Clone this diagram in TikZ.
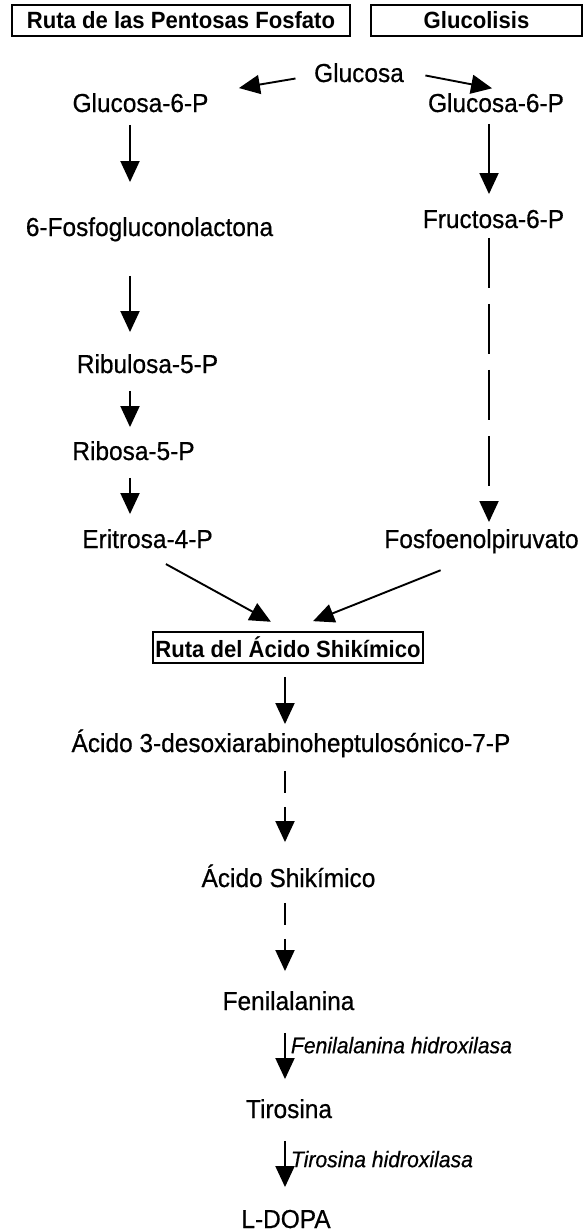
\documentclass[tikz,border=0pt]{standalone}
\usepackage{fontspec}
\setmainfont[FakeBold=0.6, FakeStretch=0.94]{Liberation Sans}
\newfontfamily\headfont[FakeStretch=0.94]{Liberation Sans Bold}
\usetikzlibrary{arrows.meta}

\begin{document}
\begin{tikzpicture}[
		x=1pt, y=-1pt,
		>={Triangle[length=21pt,width=19pt]},
		line width=1.9pt,
		chem/.style={inner sep=0pt, anchor=base, text height=18pt, text depth=5pt,
				font=\fontsize{26}{30}\selectfont},
		pathway/.style={draw, line width=1.7pt, minimum height=31pt, inner sep=0pt,
				font=\fontsize{23.5}{26}\headfont},
		reac/.style={->},
		longdash/.style={->, dash pattern=on 50pt off 16pt},
		shortdash/.style={->, dash pattern=on 22pt off 14pt},
		enzyme/.style={right, inner sep=5pt, text height=15pt, text depth=4pt,
				font=\fontsize{22.5}{26}\selectfont\itshape}
	]
	\useasboundingbox (0,0) rectangle (583,1232);

	\node[pathway, minimum width=338pt] (pentosas) at (181,20.5) {Ruta de las Pentosas Fosfato};
	\node[pathway, minimum width=211pt] (glucolisis) at (476.5,20.5) {Glucolisis};

	\node[chem] (gluc) at (359,82) {Glucosa};
	\node[chem] (g6pL) at (140.5,112) {Glucosa-6-P};
	\node[chem] (g6pR) at (496,112) {Glucosa-6-P};
	\node[chem] (lactona) at (149.5,236) {6-Fosfogluconolactona};
	\node[chem] (fructosa) at (493.5,228) {Fructosa-6-P};
	\node[chem] (ribulosa) at (147.5,373) {Ribulosa-5-P};
	\node[chem] (ribosa) at (133.5,460) {Ribosa-5-P};
	\node[chem] (eritrosa) at (147.5,548) {Eritrosa-4-P};
	\node[chem] (pep) at (481.5,548) {Fosfoenolpiruvato};
	\node[pathway, minimum width=270pt] (shikimato) at (288,647.5) {Ruta del Ácido Shikímico};
	\node[chem] (dahp) at (291,752) {Ácido 3-desoxiarabinoheptulosónico-7-P};
	\node[chem] (shik) at (288.5,887) {Ácido Shikímico};
	\node[chem] (fenil) at (288.5,1010) {Fenilalanina};
	\node[chem] (tiros) at (289,1118) {Tirosina};
	\node[chem] (ldopa) at (286,1228) {L-DOPA};

	% columns of the vertical arrows
	\coordinate (colL) at (130,0);
	\coordinate (colR) at (489,0);
	\coordinate (colM) at (285,0);

	\draw[reac, shorten <=18pt, shorten >=30pt] (gluc.west) -- (g6pL.north east);
	\draw[reac, shorten <=21pt, shorten >=4pt] ([yshift=4pt]gluc.east) -- ([yshift=4pt]g6pR.north);

	\draw[reac, shorten <=7pt, shorten >=35pt] (g6pL.south -| colL) -- (lactona.north -| colL);
	\draw[reac, shorten <=34pt, shorten >=22pt] (lactona.south -| colL) -- (ribulosa.north -| colL);
	\draw[reac, shorten <=12pt, shorten >=14pt] (ribulosa.south -| colL) -- (ribosa.north -| colL);
	\draw[reac, shorten <=12pt, shorten >=15pt] (ribosa.south -| colL) -- (eritrosa.north -| colL);

	\draw[reac, shorten <=6pt, shorten >=15pt] (g6pR.south -| colR) -- (fructosa.north -| colR);
	\draw[longdash, shorten <=4pt, shorten >=7pt] (fructosa.south -| colR) -- (pep.north -| colR);

	\draw[reac, shorten <=21pt, shorten >=19.5pt] (eritrosa.south) -- (shikimato.north);
	\draw[reac, shorten <=44pt, shorten >=27pt] (pep.south) -- (shikimato.north);

	\draw[reac, shorten <=13pt, shorten >=9pt] (shikimato.south -| colM) -- (dahp.north -| colM);
	\draw[shortdash, shorten <=13pt, shorten >=26pt] (dahp.south -| colM) -- (shik.north -| colM);
	\draw[shortdash, shorten <=10pt, shorten >=20pt] (shik.south -| colM) -- (fenil.north -| colM);
	\draw[reac, shorten <=17pt, shorten >=20pt] (fenil.south -| colM) -- (tiros.north -| colM)
	node[enzyme, pos=0.382] (fenhid) {Fenilalanina hidroxilasa};
	\draw[reac, shorten <=17pt, shorten >=22pt] (tiros.south -| colM) -- (ldopa.north -| colM)
	node[enzyme, pos=0.443] (tirhid) {Tirosina hidroxilasa};
\end{tikzpicture}
\end{document}
